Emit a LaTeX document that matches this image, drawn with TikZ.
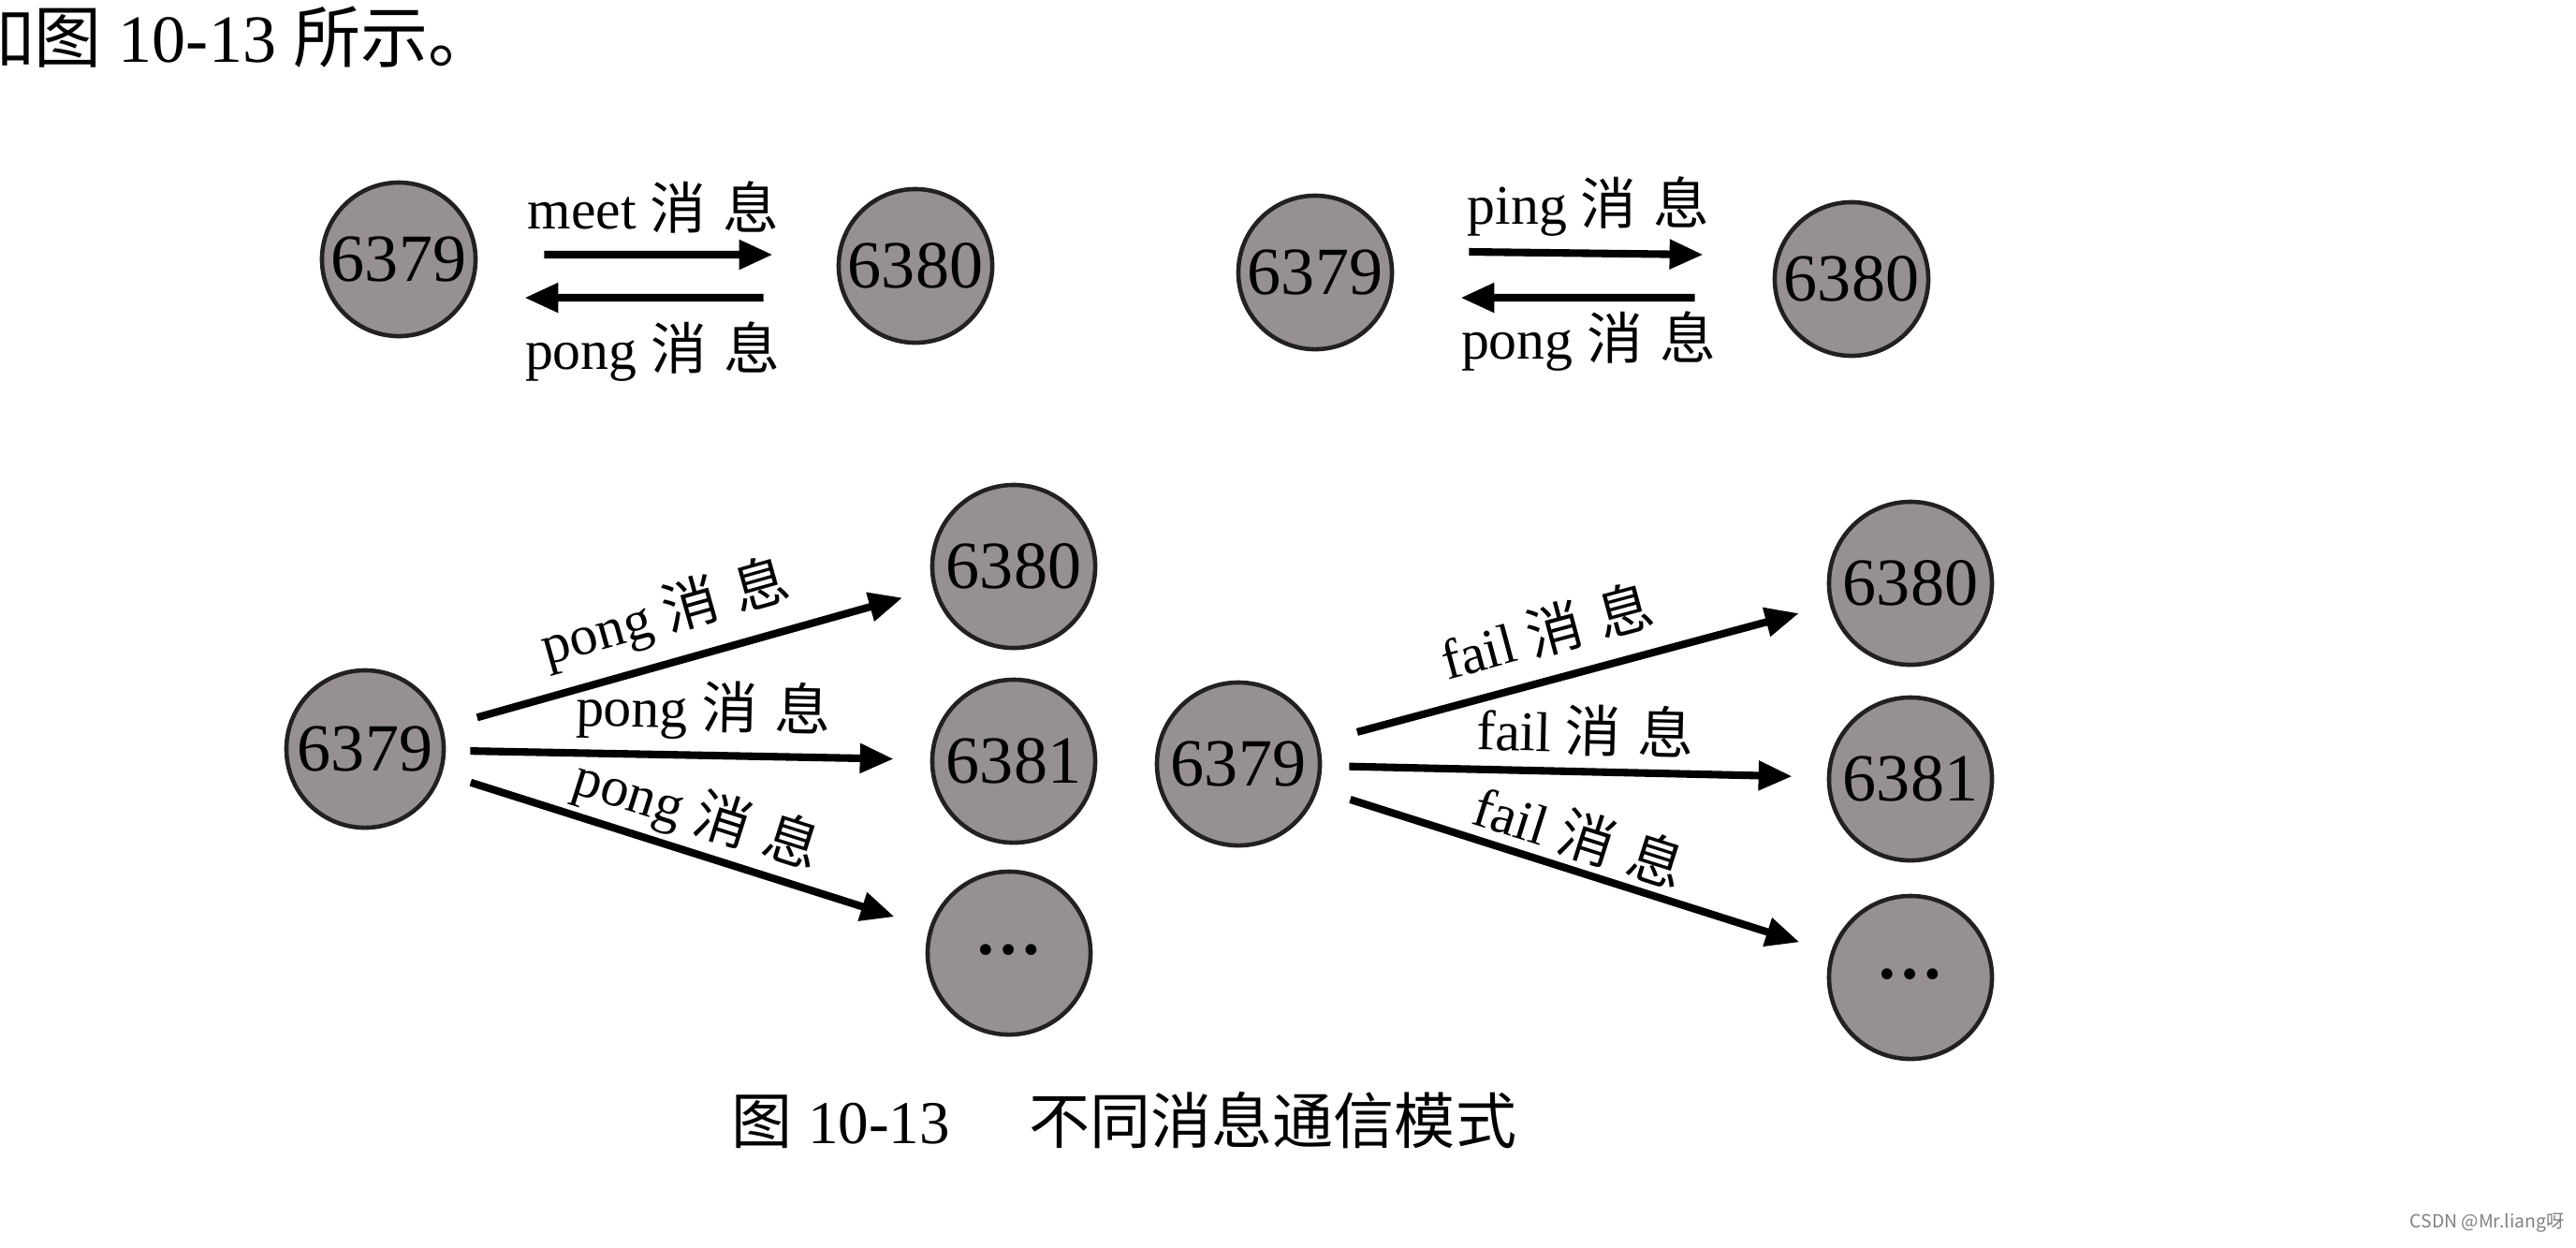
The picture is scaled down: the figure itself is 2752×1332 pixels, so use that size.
\documentclass[tikz,border=0pt]{standalone}
\usepackage{fontspec}
\setmainfont{Liberation Serif}
\newfontfamily\cjk{Noto Sans CJK SC}
\usetikzlibrary{arrows.meta,calc}
\definecolor{circfill}{RGB}{150,144,144}
\definecolor{circline}{RGB}{35,32,32}
\newcommand\xiaoxi{{\cjk 消\hspace{0.3em}息}}
\begin{document}
\begin{tikzpicture}[x=0.01cm,y=-0.01cm,
  srv/.style={circle, draw=circline, line width=1.3pt, fill=circfill, minimum size=1.64cm, inner sep=0pt, font=\fontsize{20.5}{20.5}\selectfont},
  srvb/.style={srv, minimum size=1.74cm},
  arr/.style={line width=2.3pt, -{Triangle[length=0.36cm,width=0.3cm]}},
  lbl/.style={font=\fontsize{17}{17}\selectfont, inner sep=0pt},
]
\useasboundingbox (0,0) rectangle (2752,1332);
\fill[white] (0,0) rectangle (2752,1332);

% intro text
\node[anchor=west, font=\fontsize{20.5}{21}\selectfont, inner sep=0pt] (intro) at (-36,39) {{\cjk 如图} 10-13 {\cjk 所示。}};

% ---- top-left: meet / pong
\node[srv] (tla) at (426,277) {6379};
\node[srv] (tlb) at (978,284) {6380};
\draw[arr] ([xshift=0.71cm,yshift=0.05cm]tla.east) -- ([xshift=-0.68cm,yshift=0.12cm]tlb.west);
\draw[arr] ([xshift=-0.78cm,yshift=-0.34cm]tlb.west) -- ([xshift=0.5cm,yshift=-0.41cm]tla.east);
\node[lbl] (tl1) at (698,221) {meet \xiaoxi};
\node[lbl] (tl2) at (697,376) {pong \xiaoxi};

% ---- top-right: ping / pong
\node[srv] (tra) at (1405,291) {6379};
\node[srv] (trb) at (1978,298) {6380};
\draw[arr] ([xshift=0.8cm,yshift=0.22cm]tra.east) -- ([xshift=-0.74cm,yshift=0.26cm]trb.west);
\draw[arr] ([xshift=-0.83cm,yshift=-0.2cm]trb.west) -- ([xshift=0.71cm,yshift=-0.27cm]tra.east);
\node[lbl] (tr1) at (1697,221) {ping \xiaoxi};
\node[lbl] (tr2) at (1697,365) {pong \xiaoxi};

% ---- bottom-left: pong broadcast
\node[srv, minimum size=1.68cm] (bla) at (390,800) {6379};
\node[srvb] (blb) at (1083,605) {6380};
\node[srvb] (blc) at (1083,813) {6381};
\node[srvb] (bld) at (1078,1018) {\raisebox{0.1em}{\textbf{…}}};
\draw[arr, shorten <=0.38cm, shorten >=0.34cm] (bla) -- node[lbl, sloped, above=0.16cm, pos=0.48] {pong \xiaoxi} (blb);
\draw[arr, shorten <=0.26cm, shorten >=0.39cm] (bla) -- node[lbl, sloped, above=0.12cm, pos=0.53] {pong \xiaoxi} (blc);
\draw[arr, shorten <=0.32cm, shorten >=0.39cm] (bla) -- node[lbl, sloped, above=0.05cm, pos=0.5] {pong \xiaoxi} (bld);

% ---- bottom-right: fail broadcast
\node[srvb] (bra) at (1323,816) {6379};
\node[srvb] (brb) at (2041,623) {6380};
\node[srvb] (brc) at (2041,832) {6381};
\node[srvb] (brd) at (2041,1044) {\raisebox{0.1em}{\textbf{…}}};
\draw[arr, shorten <=0.42cm, shorten >=0.34cm] (bra) -- node[lbl, sloped, above=0.2cm, pos=0.47] {fail \xiaoxi} (brb);
\draw[arr, shorten <=0.29cm, shorten >=0.37cm] (bra) -- node[lbl, sloped, above=0.12cm, pos=0.52] {fail \xiaoxi} (brc);
\draw[arr, shorten <=0.36cm, shorten >=0.35cm] (bra) -- node[lbl, sloped, above=0.06cm, pos=0.49] {fail \xiaoxi} (brd);

% caption
\node[font=\fontsize{18.5}{19}\selectfont, inner sep=0pt] (cap) at (1201,1197) {{\cjk 图} 10-13\hspace{1.3em}{\cjk 不同消息通信模式}};

% watermark
\node[anchor=east, text=gray, font=\cjk\fontsize{5.5}{6}\selectfont, inner sep=0pt] (wm) at (2740,1306) {CSDN @Mr.liang呀};
\end{tikzpicture}
\end{document}
